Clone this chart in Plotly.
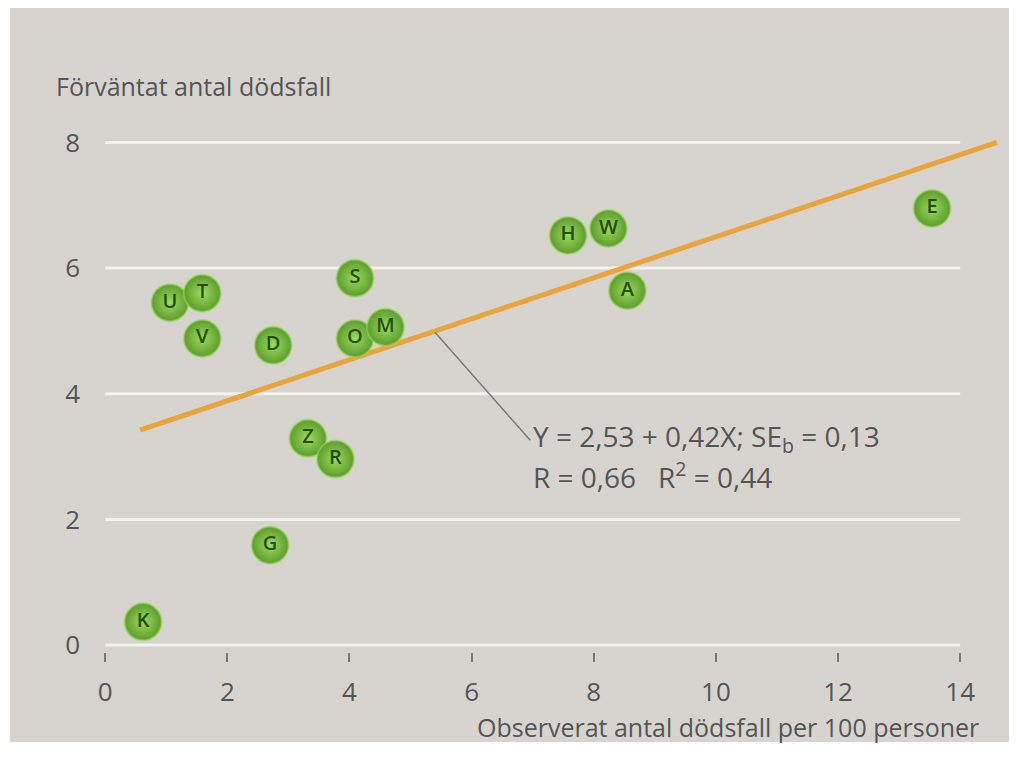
import plotly.graph_objects as go

# Data
labels = ["K", "G", "Z", "R", "D", "V", "U", "T", "S", "O", "M", "H", "W", "A", "E"]
observed = [0.62, 2.70, 3.32, 3.77, 2.75, 1.59, 1.06, 1.59, 4.09, 4.09, 4.59, 7.58, 8.24, 8.55, 13.54]
expected = [0.37, 1.59, 3.29, 2.96, 4.77, 4.88, 5.45, 5.60, 5.84, 4.88, 5.06, 6.52, 6.63, 5.64, 6.95]

fit_x = [0.57, 14.6]
fit_y = [3.42, 8.0]

callout_x = [5.40, 6.96]
callout_y = [4.98, 3.26]

x_ticks = [0, 2, 4, 6, 8, 10, 12, 14]
y_ticks = [0, 2, 4, 6, 8]

PANEL = "#d7d4cf"
TEXT = "#555555"
FONT = "Open Sans"

# page body adds 8px, so the figure is drawn 8px smaller and offsets are in figure px
FW, FH = 1009, 752
L, R, T, B = 85, 1001, 103, 644
W, H = R - L, B - T

fig = go.Figure()

fig.add_trace(go.Scatter(x=fit_x, y=fit_y, mode="lines",
                         line=dict(color="#e9a43a", width=5), hoverinfo="skip"))
fig.add_trace(go.Scatter(x=callout_x, y=callout_y, mode="lines",
                         line=dict(color="#7a7a7a", width=1.5), hoverinfo="skip"))
fig.add_trace(go.Scatter(
    x=observed, y=expected, mode="markers+text", text=labels,
    textposition="middle center",
    textfont=dict(family=FONT, size=20, color="#244c0b", weight=600),
    marker=dict(size=37, color="#5c9c2c",
                gradient=dict(type="radial", color="#9ddb5e"),
                line=dict(color="rgba(150,215,90,0.6)", width=2)),
))

# white grid lines stop at x = 14
for yv in y_ticks:
    fig.add_shape(type="line", xref="x", yref="y", x0=0, x1=14, y0=yv, y1=yv,
                  line=dict(color="#f4f2ee", width=3), layer="below")

# panel background with white outer border
fig.add_shape(type="rect", xref="paper", yref="paper",
              x0=(2 - L) / W, x1=(1004 - L) / W,
              y0=(B - 734) / H, y1=(B + 2) / H,
              fillcolor=PANEL, line=dict(width=0), layer="below")

fig.add_annotation(xref="paper", yref="paper", x=(46 - L) / W, y=(B - 78) / H,
                   xanchor="left", yanchor="middle", showarrow=False,
                   text="Förväntat antal dödsfall",
                   font=dict(family=FONT, size=25, color=TEXT))
fig.add_annotation(xref="paper", yref="paper", x=(973 - L) / W, y=(B - 719) / H,
                   xanchor="right", yanchor="middle", showarrow=False,
                   text="Observerat antal dödsfall per 100 personer",
                   font=dict(family=FONT, size=25, color=TEXT))
fig.add_annotation(xref="x", yref="y", x=6.98, y=3.29, xanchor="left", yanchor="middle",
                   showarrow=False, text="Y = 2,53 + 0,42X; SE<sub>b</sub> = 0,13",
                   font=dict(family=FONT, size=28, color=TEXT))
fig.add_annotation(xref="x", yref="y", x=6.98, y=2.70, xanchor="left", yanchor="middle",
                   showarrow=False, text="R = 0,66   R<sup>2</sup> = 0,44",
                   font=dict(family=FONT, size=28, color=TEXT))

fig.update_layout(
    width=FW, height=FH,
    margin=dict(l=L, r=FW - R, t=T, b=FH - B),
    paper_bgcolor="white", plot_bgcolor=PANEL,
    showlegend=False,
    font=dict(family=FONT, color=TEXT),
    xaxis=dict(range=[-0.2, 14.8], tickvals=x_ticks, showgrid=False, zeroline=False,
               showline=False, ticks="outside", ticklen=9, tickwidth=2, tickcolor="#777777",
               tickfont=dict(size=26, color=TEXT), ticklabelstandoff=8),
    yaxis=dict(range=[-0.11, 8.5], tickvals=y_ticks, showgrid=False, zeroline=False,
               showline=False, ticks="", tickfont=dict(size=26, color=TEXT),
               ticklabelstandoff=12),
)

fig.write_html("out.html")
